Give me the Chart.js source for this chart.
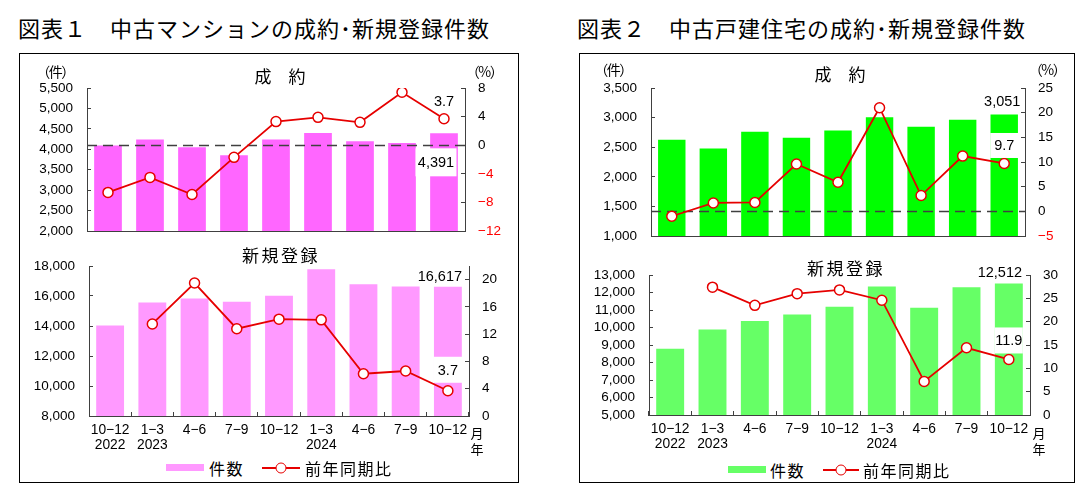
<!DOCTYPE html>
<html>
<head>
<meta charset="utf-8">
<script src="https://cdn.jsdelivr.net/npm/chart.js@4.4.1/dist/chart.umd.min.js"></script>
<style>
  body { margin:0; width:1084px; height:497px; background:#fff; position:relative; overflow:hidden;
         font-family:"Noto Sans CJK JP", sans-serif; color:#000; }
  canvas, .t, .frame, .sw { position:absolute; }
  .t { transform:translate(-50%,-50%); line-height:1; white-space:nowrap; }
  .title { position:absolute; top:11px; font-size:22px; letter-spacing:1px; white-space:nowrap; line-height:32px; }
  .frame { border:1.5px solid #000; box-sizing:border-box; }
  .unit { font-size:14px; letter-spacing:-1.5px; }
  .sub { font-size:17px; }
  .sub2 { font-size:17px; letter-spacing:2.5px; }
  .lg { font-size:16px; letter-spacing:1.5px; transform:translate(0,-50%); }
  .ym { font-size:13px; }
  .line { position:absolute; height:2px; background:#e60000; transform:translateY(-50%); }
  .dot { position:absolute; width:9px; height:9px; border:1.5px solid #e60000; background:#fff; border-radius:50%; transform:translate(-50%,-50%); }
</style>
</head>
<body>

<div class="title" style="left:18px">図表１　中古マンションの成約･新規登録件数</div>
<div class="title" style="left:577px">図表２　中古戸建住宅の成約･新規登録件数</div>

<div class="frame" style="left:19px;top:53px;width:500px;height:430px"></div>
<div class="frame" style="left:579px;top:53px;width:496px;height:430px"></div>

<canvas id="c1" width="495" height="163" style="left:21px;top:78px"></canvas>
<canvas id="c2" width="495" height="200" style="left:21px;top:256px"></canvas>
<canvas id="c3" width="491" height="168" style="left:581px;top:78px"></canvas>
<canvas id="c4" width="491" height="190" style="left:581px;top:265px"></canvas>

<div class="t unit" style="left:55px;top:71px">（件）</div>
<div class="t unit" style="left:484px;top:71px">（%）</div>
<div class="t sub" style="left:280px;top:75px">成　約</div>
<div class="t sub2" style="left:281px;top:254px">新規登録</div>
<div class="t ym" style="left:477px;top:432px">月</div>
<div class="t ym" style="left:477px;top:448px">年</div>

<div class="t unit" style="left:613px;top:69px">（件）</div>
<div class="t unit" style="left:1047px;top:69px">（%）</div>
<div class="t sub" style="left:840px;top:73px">成　約</div>
<div class="t sub2" style="left:846px;top:267px">新規登録</div>
<div class="t ym" style="left:1039px;top:432px">月</div>
<div class="t ym" style="left:1039px;top:448px">年</div>

<!-- legends -->
<div class="sw" style="left:166px;top:464px;width:38px;height:7px;background:#ff99ff"></div>
<div class="t lg" style="left:209px;top:468px">件数</div>
<div class="line" style="left:262px;top:468px;width:38px"></div>
<div class="dot" style="left:281px;top:468px"></div>
<div class="t lg" style="left:305px;top:468px">前年同期比</div>

<div class="sw" style="left:728px;top:466px;width:38px;height:7px;background:#66ff66"></div>
<div class="t lg" style="left:770px;top:470px">件数</div>
<div class="line" style="left:823px;top:470px;width:36px"></div>
<div class="dot" style="left:841px;top:470px"></div>
<div class="t lg" style="left:863px;top:470px">前年同期比</div>

<script>
// quarters (month range / year)
const quarters = [["10−12","2022"],["1−3","2023"],"4−6","7−9","10−12",["1−3","2024"],"4−6","7−9","10−12"];

// 図表1 中古マンション
const mansionContracts    = [4090, 4240, 4050, 3855, 4240, 4400, 4195, 4155, 4391];
const mansionContractsYoY = [-6.6, -4.5, -6.9, -1.7, 3.3, 3.9, 3.2, 7.4, 3.7];
const mansionListings     = [14030, 15570, 15830, 15610, 16010, 17780, 16790, 16640, 16617];
const mansionListingsYoY  = [null, 13.5, 19.5, 12.8, 14.2, 14.1, 6.2, 6.6, 3.7];

// 図表2 中古戸建住宅
const houseContracts    = [2625, 2480, 2760, 2660, 2780, 3005, 2845, 2965, 3051];
const houseContractsYoY = [-1.0, 1.7, 1.8, 9.6, 5.9, 21.0, 3.2, 11.2, 9.7];
const houseListings     = [8790, 9880, 10370, 10750, 11190, 12350, 11130, 12300, 12512];
const houseListingsYoY  = [null, 27.4, 23.5, 26.0, 26.8, 24.6, 7.2, 14.4, 11.9];

const AXIS = '#404040';
const RED = '#e60000';
const NUM = 'Liberation Sans, Arial, sans-serif';

// zero line + value labels
const decor = {
  id: 'decor',
  afterDatasetDraw(chart, args, o) {
    if (args.index !== 0 || !o.zeroLine) return;
    const ctx = chart.ctx, a = chart.chartArea;
    const y = Math.round(chart.scales.y1.getPixelForValue(0)) + 0.5;
    ctx.save();
    ctx.strokeStyle = AXIS;
    ctx.lineWidth = 1.5;
    ctx.setLineDash([10, 6]);
    ctx.beginPath();
    ctx.moveTo(a.left, y);
    ctx.lineTo(a.right, y);
    ctx.stroke();
    ctx.restore();
  },
  afterDatasetsDraw(chart, args, o) {
    const ctx = chart.ctx;
    (o.labels || []).forEach(l => {
      const el = chart.getDatasetMeta(l.ds).data[l.i];
      const v = chart.data.datasets[l.ds].data[l.i];
      const txt = l.ds === 0 ? v.toLocaleString('en-US') : v.toFixed(1);
      const x = el.x + l.dx, y = el.y + l.dy;
      ctx.save();
      if (l.box) {
        ctx.fillStyle = '#fff';
        ctx.fillRect(x - l.box[0] / 2, y - l.box[1] / 2 - 1, l.box[0], l.box[1]);
      }
      ctx.fillStyle = '#000';
      ctx.font = '14.5px ' + NUM;
      ctx.textAlign = 'center';
      ctx.textBaseline = 'middle';
      ctx.fillText(txt, x, y);
      ctx.restore();
    });
  }
};

function makeChart(id, c) {
  return new Chart(document.getElementById(id), {
    type: 'bar',
    data: {
      labels: quarters,
      datasets: [
        { type: 'bar', label: '件数', data: c.bars, backgroundColor: c.barColor, yAxisID: 'y',
          barPercentage: 0.66, categoryPercentage: 1, order: 2 },
        { type: 'line', label: '前年同期比', data: c.yoy, yAxisID: 'y1', borderColor: RED, borderWidth: 1.8,
          pointRadius: 5, pointBackgroundColor: '#fff', pointBorderColor: RED, pointBorderWidth: 1.5,
          tension: 0, order: 1 }
      ]
    },
    options: {
      responsive: false,
      animation: false,
      devicePixelRatio: 1,
      layout: { padding: { top: 10, bottom: c.showX ? 0 : 10, left: 0, right: 0 } },
      plugins: {
        legend: { display: false },
        tooltip: { enabled: false },
        decor: { zeroLine: c.zeroLine, labels: c.labels }
      },
      scales: {
        x: {
          offset: true,
          grid: c.showX ? { display: true, drawOnChartArea: false, offset: true, tickLength: -4, color: AXIS }
                        : { display: false },
          border: { display: true, color: AXIS, width: 1 },
          ticks: { display: c.showX, color: '#000', padding: 11, maxRotation: 0, autoSkip: false,
                   font: { family: NUM, size: 13.8, lineHeight: 1.07 } },
          afterFit: s => { s.height = c.showX ? 40 : 0; }
        },
        y: {
          position: 'left', min: c.left[0], max: c.left[1],
          ticks: { stepSize: c.left[2], color: '#000', padding: 18, autoSkip: false,
                   font: { family: NUM, size: 13.5 },
                   callback: v => v.toLocaleString('en-US') },
          grid: { drawOnChartArea: false, tickLength: -4, color: AXIS },
          border: { color: AXIS, width: 1 },
          afterFit: s => { s.width = c.leftW; s.paddingTop = 8; s.paddingBottom = 8; }
        },
        y1: {
          position: 'right', min: c.right[0], max: c.right[1],
          ticks: { stepSize: c.right[2], includeBounds: false, padding: 17, autoSkip: false,
                   font: { family: NUM, size: 13.5 },
                   color: t => t.tick.value < 0 ? '#ff0000' : '#000',
                   callback: v => v < 0 ? '−' + Math.abs(v) : String(v) },
          grid: { drawOnChartArea: false, tickLength: -4, color: AXIS },
          border: { color: AXIS, width: 1 },
          afterFit: s => { s.width = c.rightW; s.paddingTop = 8; s.paddingBottom = 8; }
        }
      }
    },
    plugins: [decor]
  });
}

makeChart('c1', {
  bars: mansionContracts, yoy: mansionContractsYoY, barColor: '#ff66ff',
  left: [2000, 5500, 500], right: [-12, 8, 4], leftW: 66, rightW: 51,
  showX: false, zeroLine: true,
  labels: [ { ds: 0, i: 8, dx: -8, dy: 30, box: [41, 28] },
            { ds: 1, i: 8, dx: 0, dy: -17 } ]
});
makeChart('c2', {
  bars: mansionListings, yoy: mansionListingsYoY, barColor: '#ff99ff',
  left: [8000, 18000, 2000], right: [0, 22, 4], leftW: 68, rightW: 47,
  showX: true, zeroLine: false,
  labels: [ { ds: 0, i: 8, dx: -8, dy: -10 },
            { ds: 1, i: 8, dx: 0, dy: -20, box: [29, 26] } ]
});
makeChart('c3', {
  bars: houseContracts, yoy: houseContractsYoY, barColor: '#00ff00',
  left: [1000, 3500, 500], right: [-5, 25, 5], leftW: 70, rightW: 47,
  showX: false, zeroLine: true,
  labels: [ { ds: 0, i: 8, dx: -2, dy: -13 },
            { ds: 1, i: 8, dx: 0, dy: -17, box: [28, 25] } ]
});
makeChart('c4', {
  bars: houseListings, yoy: houseListingsYoY, barColor: '#66ff66',
  left: [5000, 13000, 1000], right: [0, 30, 5], leftW: 68, rightW: 42,
  showX: true, zeroLine: false,
  labels: [ { ds: 0, i: 8, dx: -9, dy: -11 },
            { ds: 1, i: 8, dx: 0, dy: -18, box: [28, 26] } ]
});
</script>
</body>
</html>
